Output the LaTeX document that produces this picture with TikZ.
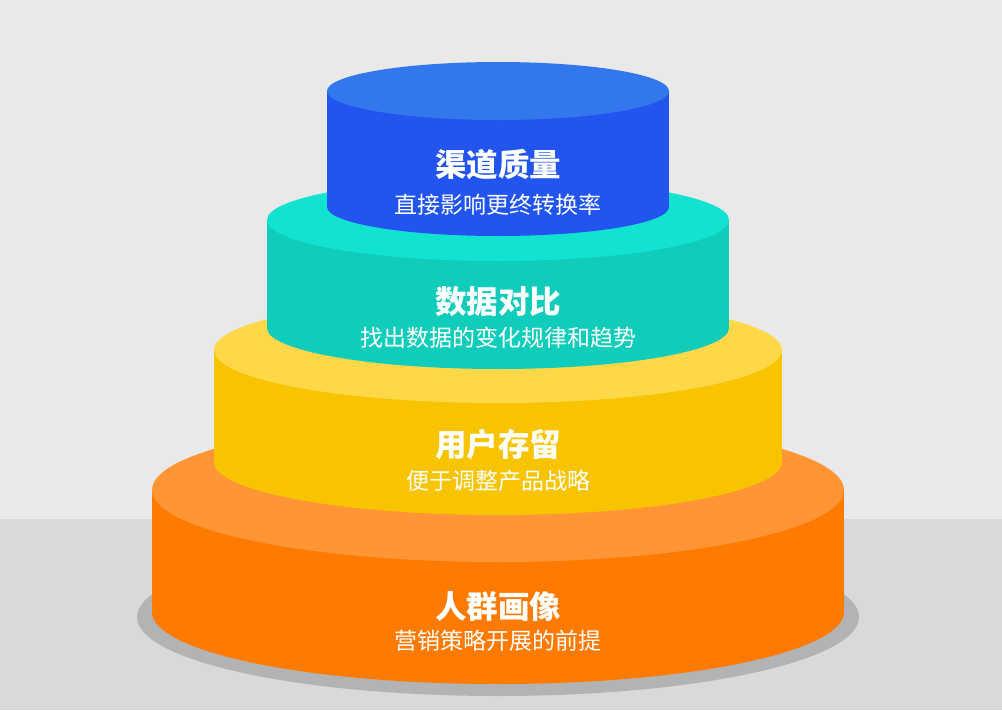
\documentclass[tikz,border=0pt]{standalone}
\usepackage{fontspec}
\newfontfamily\cjk{Noto Sans CJK SC}
\usetikzlibrary{calc}
\definecolor{bgup}{HTML}{E9E9E9}
\definecolor{bgdown}{HTML}{D9D9D9}
\definecolor{shadowgray}{HTML}{B3B3B3}
\definecolor{orangeside}{HTML}{FF7A00}
\definecolor{orangetop}{HTML}{FF9535}
\definecolor{yellowside}{HTML}{F8C400}
\definecolor{yellowtop}{HTML}{FFD84A}
\definecolor{tealside}{HTML}{10CCBB}
\definecolor{tealtop}{HTML}{12E3D1}
\definecolor{blueside}{HTML}{2255F0}
\definecolor{bluetop}{HTML}{3377EC}
\def\tier[#1,#2](#3:#4:#5:#6){%
  \fill[#1] (498-#3, #5) rectangle (498+#3, #6);
  \fill[#1] (498, #6) ellipse (#3 and #4);
  \fill[#2] (498, #5) ellipse (#3 and #4);}
\tikzset{
  tiertitle/.style={text=white, font=\cjk\bfseries\fontsize{31.5}{31.5}\selectfont},
  tiersub/.style={text=white, font=\cjk\fontsize{23}{23}\selectfont}}

\begin{document}
\begin{tikzpicture}[x=1pt, y=-1pt]
			%%%%% START %%%%%
			\useasboundingbox (0, 0) rectangle (1002, 710);
			\fill[bgup] (0, 0) rectangle (1002, 519);
			\fill[bgdown] (0, 519) rectangle (1002, 710);
			
			\fill[shadowgray] (498, 617) ellipse (361 and 79);
			
			\tier[orangeside,orangetop](346:72:490:612);
			\tier[yellowside,yellowtop](284:53:350:462);
			\tier[tealside,tealtop](231:41:220:328);
			\tier[blueside,bluetop](171:29:91:207);
			
			\node[tiertitle] (qudao) at (498, 165) {渠道质量};
			\node[tiersub] (qudaosub) at (498, 205) {直接影响更终转换率};
			
			\node[tiertitle] (shuju) at (498, 302) {数据对比};
			\node[tiersub] (shujusub) at (498, 338) {找出数据的变化规律和趋势};
			
			\node[tiertitle] (yonghu) at (498, 445) {用户存留};
			\node[tiersub] (yonghusub) at (498, 481) {便于调整产品战略};
			
			\node[tiertitle] (renqun) at (498, 607) {人群画像};
			\node[tiersub] (renqunsub) at (498, 641) {营销策略开展的前提};
			%%%%% END %%%%%
\end{tikzpicture}
\end{document}
